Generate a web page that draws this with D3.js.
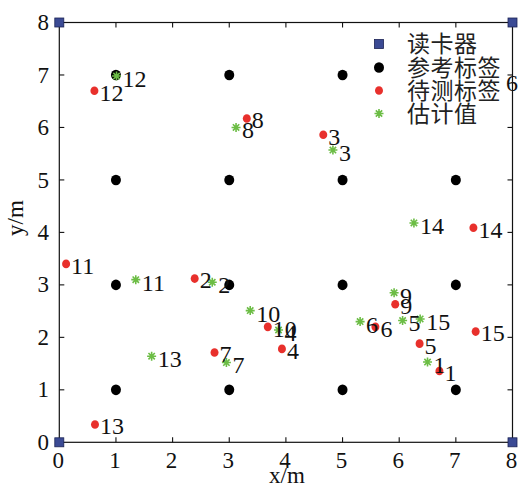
<!DOCTYPE html>
<html>
<head>
<meta charset="utf-8">
<script src="https://cdn.jsdelivr.net/npm/d3@7"></script>
<style>
  body { margin: 0; background: #fff; }
  svg { display: block; }
  .num { font-family: "Liberation Serif", "Times New Roman", serif; fill: #111; }
</style>
</head>
<body>
<div id="chart"></div>
<script>
// readers (corners)
const readerX = [0, 0, 8, 8];
const readerY = [0, 8, 0, 8];

// reference tags on a grid
const refCols = [1, 3, 5, 7];
const refRows = [1, 3, 5, 7];

// tags under test (red) and estimates (green), indexed by id
const tagIds = [1, 2, 3, 4, 5, 6, 7, 8, 9, 10, 11, 12, 13, 14, 15];
const testX = [6.71, 2.39, 4.66, 3.93, 6.36, 5.58, 2.74, 3.31, 5.93, 3.68, 0.12, 0.62, 0.63, 7.31, 7.35];
const testY = [1.36, 3.12, 5.86, 1.78, 1.88, 2.20, 1.71, 6.17, 2.63, 2.20, 3.40, 6.70, 0.34, 4.09, 2.11];
const estX = [6.50, 2.70, 4.83, 3.87, 6.06, 5.31, 2.95, 3.12, 5.91, 3.37, 1.35, 1.01, 1.63, 6.26, 6.37];
const estY = [1.53, 3.05, 5.57, 2.14, 2.32, 2.30, 1.52, 6.00, 2.85, 2.51, 3.10, 6.98, 1.64, 4.18, 2.35];

const ticks = [0, 1, 2, 3, 4, 5, 6, 7, 8];
const legendLabels = ["读卡器", "参考标签", "待测标签", "估计值"];

const W = 519, H = 489;
const x = d3.scaleLinear().domain([0, 8]).range([59.3, 512.5]);
const y = d3.scaleLinear().domain([0, 8]).range([442.3, 22.5]);

const svg = d3.select("#chart").append("svg")
  .attr("width", W)
  .attr("height", H);

// frame
svg.append("rect")
  .attr("x", x(0)).attr("y", y(8))
  .attr("width", x(8) - x(0)).attr("height", y(0) - y(8))
  .attr("fill", "none").attr("stroke", "#111").attr("stroke-width", 1.2);

// inward ticks on all four sides
const inner = ticks.slice(1, -1);
const tk = 5;
const tg = svg.append("g").attr("stroke", "#111").attr("stroke-width", 1.1);
inner.forEach(t => {
  tg.append("line").attr("x1", x(t)).attr("x2", x(t)).attr("y1", y(0)).attr("y2", y(0) - tk);
  tg.append("line").attr("x1", x(t)).attr("x2", x(t)).attr("y1", y(8)).attr("y2", y(8) + tk);
  tg.append("line").attr("y1", y(t)).attr("y2", y(t)).attr("x1", x(0)).attr("x2", x(0) + tk);
  tg.append("line").attr("y1", y(t)).attr("y2", y(t)).attr("x1", x(8)).attr("x2", x(8) - tk);
});

// tick labels
svg.append("g").selectAll("text").data(ticks).join("text")
  .attr("class", "num")
  .attr("x", d => x(d) - 1)
  .attr("y", 468)
  .attr("text-anchor", "middle")
  .attr("font-size", 23)
  .text(d => d);

svg.append("g").selectAll("text").data(ticks).join("text")
  .attr("class", "num")
  .attr("x", 49)
  .attr("y", d => y(d))
  .attr("dy", "0.33em")
  .attr("text-anchor", "end")
  .attr("font-size", 23)
  .text(d => d);

// axis titles
svg.append("text").attr("class", "num")
  .attr("x", 287).attr("y", 483)
  .attr("text-anchor", "middle").attr("font-size", 23)
  .text("x/m");

svg.append("text").attr("class", "num")
  .attr("transform", "translate(23,218) rotate(-90)")
  .attr("text-anchor", "middle").attr("font-size", 23)
  .text("y/m");

// star marker path
function star(cx, cy, r) {
  const d = r * 0.7071;
  return `M${cx - r},${cy}L${cx + r},${cy}M${cx},${cy - r}L${cx},${cy + r}` +
    `M${cx - d},${cy - d}L${cx + d},${cy + d}M${cx - d},${cy + d}L${cx + d},${cy - d}`;
}

const green = "#6cbd45";
const red = "#e8302c";
const blue = "#3b4a94";

// reference tags
const refPts = [];
refCols.forEach(c => refRows.forEach(r => refPts.push([c, r])));
svg.append("g").selectAll("ellipse").data(refPts).join("ellipse")
  .attr("cx", d => x(d[0])).attr("cy", d => y(d[1]))
  .attr("rx", 5).attr("ry", 5.3)
  .attr("fill", "#000");

// test tags (red)
svg.append("g").selectAll("ellipse").data(tagIds).join("ellipse")
  .attr("cx", (d, i) => x(testX[i])).attr("cy", (d, i) => y(testY[i]))
  .attr("rx", 4).attr("ry", 4.3)
  .attr("fill", red);

// estimates (green stars)
svg.append("g").selectAll("path").data(tagIds).join("path")
  .attr("d", (d, i) => star(x(estX[i]), y(estY[i]), 4.5))
  .attr("stroke", green).attr("stroke-width", 1.6).attr("fill", "none");

// labels
svg.append("g").selectAll("text").data(tagIds).join("text")
  .attr("class", "num")
  .attr("x", (d, i) => x(testX[i]) + 5)
  .attr("y", (d, i) => y(testY[i]) + 2)
  .attr("dy", "0.33em")
  .attr("font-size", 24)
  .text(d => d);

svg.append("g").selectAll("text").data(tagIds).join("text")
  .attr("class", "num")
  .attr("x", (d, i) => x(estX[i]) + 6)
  .attr("y", (d, i) => y(estY[i]) + 3)
  .attr("dy", "0.33em")
  .attr("font-size", 24)
  .text(d => d);

// stray label on right edge
svg.append("text").attr("class", "num")
  .attr("x", 506).attr("y", 83).attr("dy", "0.33em")
  .attr("font-size", 24)
  .text("6");

// readers (blue squares)
svg.append("g").selectAll("rect").data(readerX).join("rect")
  .attr("x", (d, i) => x(d) - 4.5).attr("y", (d, i) => y(readerY[i]) - 4.5)
  .attr("width", 9).attr("height", 9)
  .attr("fill", blue).attr("stroke", "#1c2455").attr("stroke-width", 0.8);

// legend (white box hides the grid dot under it)
const lg = svg.append("g");
const rowY = [44, 67.5, 90.5, 113.5];
const lx = 379;
lg.append("rect").attr("x", 366).attr("y", 30)
  .attr("width", 138).attr("height", 96).attr("fill", "#fff");
lg.append("rect").attr("x", lx - 4.5).attr("y", rowY[0] - 4.5)
  .attr("width", 9).attr("height", 9)
  .attr("fill", blue).attr("stroke", "#1c2455").attr("stroke-width", 0.8);
lg.append("ellipse").attr("cx", lx).attr("cy", rowY[1]).attr("rx", 5).attr("ry", 5.3).attr("fill", "#000");
lg.append("ellipse").attr("cx", lx).attr("cy", rowY[2]).attr("rx", 4).attr("ry", 4.3).attr("fill", red);
lg.append("path").attr("d", star(lx, rowY[3], 4.5))
  .attr("stroke", green).attr("stroke-width", 1.6).attr("fill", "none");

lg.selectAll("text").data(legendLabels).join("text")
  .attr("x", 407)
  .attr("y", (d, i) => rowY[i])
  .attr("dy", "0.36em")
  .attr("font-family", "'Noto Sans CJK SC', sans-serif")
  .attr("font-size", 23)
  .attr("letter-spacing", 0.5)
  .attr("fill", "#222")
  .text(d => d);
</script>
</body>
</html>
